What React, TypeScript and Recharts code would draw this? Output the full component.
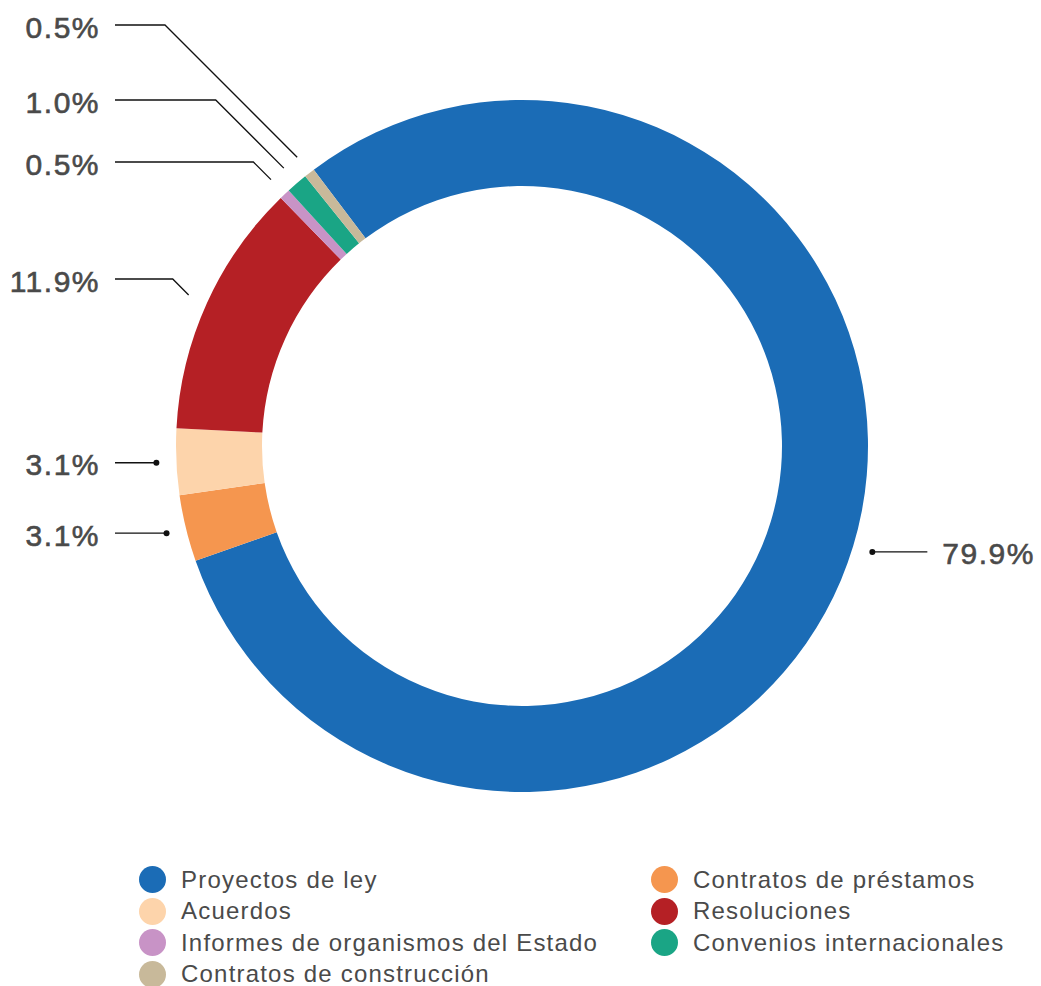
import { PieChart, Pie, Cell, Legend } from 'recharts'

const CATEGORIES = [
  'Proyectos de ley',
  'Contratos de préstamos',
  'Acuerdos',
  'Resoluciones',
  'Informes de organismos del Estado',
  'Convenios internacionales',
  'Contratos de construcción',
]
const SHARES = [79.9, 3.1, 3.1, 11.9, 0.5, 1.0, 0.5]
const COLORS = ['#1b6cb6', '#f5964f', '#fdd4ab', '#b52025', '#c893c6', '#1aa585', '#c8b99a']

// where each left-hand label sits vertically (null = level with the slice)
const LABEL_Y: (number | null)[] = [null, null, null, 279, 162, 100, 25]

const data = CATEGORIES.map((name, i) => ({ name, value: SHARES[i] }))

const RAD = Math.PI / 180
const TEXT = '#4a4a4a'
const FONT = '"Liberation Sans", Arial, Helvetica, sans-serif'

function renderLabel(props: any) {
  const { cx, cy, midAngle, outerRadius, index, value } = props
  const r = outerRadius + 20
  const ax = cx + r * Math.cos(-midAngle * RAD)
  const ay = cy + r * Math.sin(-midAngle * RAD)
  const text = `${Number(value).toFixed(1)}%`
  const textStyle = {
    fill: TEXT, fontSize: 30, fontFamily: FONT, letterSpacing: 1.5,
    stroke: TEXT, strokeWidth: 0.6,
  }

  if (ax > cx) {
    return (
      <g key={`lbl-${index}`}>
        <circle cx={ax} cy={ay} r={3} fill="#111" />
        <line x1={ax} y1={ay} x2={ax + 55} y2={ay} stroke="#111" strokeWidth={1.3} />
        <text x={ax + 70} y={ay + 2} dominantBaseline="central" textAnchor="start" style={textStyle}>
          {text}
        </text>
      </g>
    )
  }

  const ly = LABEL_Y[index] ?? ay
  const ex = ax - (ay - ly)
  return (
    <g key={`lbl-${index}`}>
      {ly === ay && <circle cx={ax} cy={ay} r={3} fill="#111" />}
      <polyline points={`${ax},${ay} ${ex},${ly} 115,${ly}`} fill="none" stroke="#111" strokeWidth={1.3} />
      <text x={100} y={ly + 2} dominantBaseline="central" textAnchor="end" style={textStyle}>
        {text}
      </text>
    </g>
  )
}

function renderLegend() {
  return (
    <div style={{
      display: 'grid',
      gridTemplateColumns: '512px 380px',
      rowGap: 4.5,
      fontFamily: FONT,
      fontSize: 24,
      color: TEXT,
    }}>
      {CATEGORIES.map((name, i) => (
        <div key={name} style={{ display: 'flex', alignItems: 'center', height: 27 }}>
          <span style={{
            width: 27, height: 27, borderRadius: '50%', background: COLORS[i],
            display: 'inline-block', marginRight: 15, flexShrink: 0,
          }} />
          <span style={{ letterSpacing: 1.2, whiteSpace: 'nowrap' }}>{name}</span>
        </div>
      ))}
    </div>
  )
}

export default function App() {
  return (
    <div style={{ position: 'absolute', left: 0, top: 0, background: '#fff' }}>
      <PieChart width={1041} height={986} margin={{ top: 0, right: 0, bottom: 0, left: 0 }}>
        <Pie
          data={data}
          dataKey="value"
          nameKey="name"
          cx={522}
          cy={446}
          innerRadius={260}
          outerRadius={346}
          startAngle={127}
          endAngle={-233}
          stroke="none"
          label={renderLabel}
          labelLine={false}
          isAnimationActive={false}
        >
          {data.map((d, i) => (
            <Cell key={d.name} fill={COLORS[i]} />
          ))}
        </Pie>
        <Legend
          content={renderLegend}
          wrapperStyle={{ left: 139, top: 866, width: 900 }}
        />
      </PieChart>
    </div>
  )
}
